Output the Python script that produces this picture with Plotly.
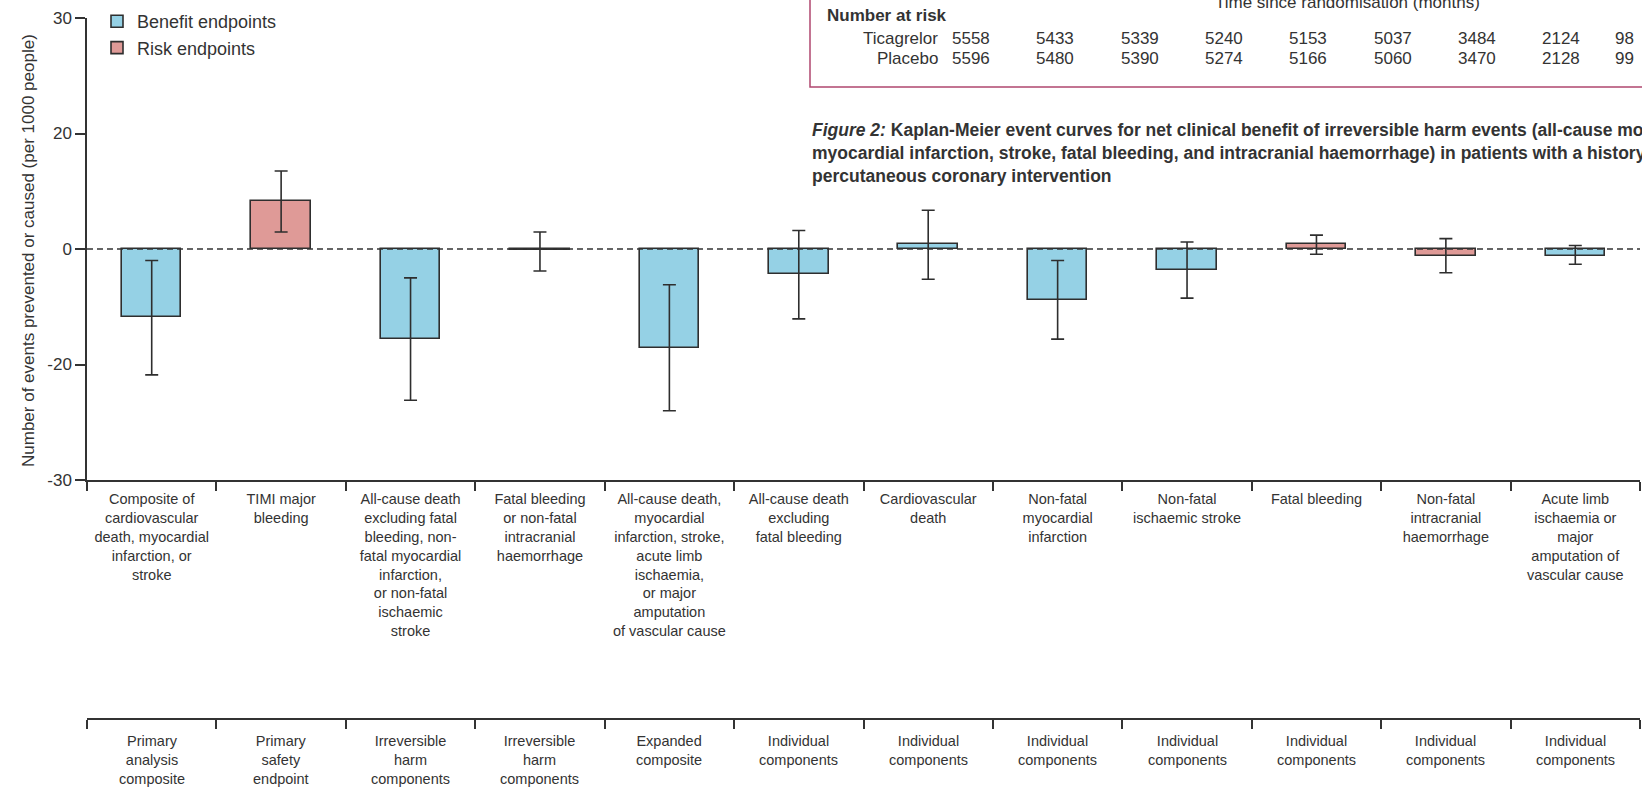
import plotly.graph_objects as go

# ---- data -------------------------------------------------------------
categories = [
    "Composite of<br>cardiovascular<br>death, myocardial<br>infarction, or<br>stroke",
    "TIMI major<br>bleeding",
    "All-cause death<br>excluding fatal<br>bleeding, non-<br>fatal myocardial<br>infarction,<br>or non-fatal<br>ischaemic<br>stroke",
    "Fatal bleeding<br>or non-fatal<br>intracranial<br>haemorrhage",
    "All-cause death,<br>myocardial<br>infarction, stroke,<br>acute limb<br>ischaemia,<br>or major<br>amputation<br>of vascular cause",
    "All-cause death<br>excluding<br>fatal bleeding",
    "Cardiovascular<br>death",
    "Non-fatal<br>myocardial<br>infarction",
    "Non-fatal<br>ischaemic stroke",
    "Fatal bleeding",
    "Non-fatal<br>intracranial<br>haemorrhage",
    "Acute limb<br>ischaemia or<br>major<br>amputation of<br>vascular cause",
]
groups = [
    "Primary<br>analysis<br>composite",
    "Primary<br>safety<br>endpoint",
    "Irreversible<br>harm<br>components",
    "Irreversible<br>harm<br>components",
    "Expanded<br>composite",
    "Individual<br>components",
    "Individual<br>components",
    "Individual<br>components",
    "Individual<br>components",
    "Individual<br>components",
    "Individual<br>components",
    "Individual<br>components",
]
effect = [-11.7, 8.3, -15.6, -0.2, -17.1, -4.4, 0.9, -8.8, -3.6, 0.9, -1.2, -1.2]
ci_upper = [-2.0, 13.5, -5.0, 2.95, -6.2, 3.2, 6.7, -2.0, 1.2, 2.4, 1.8, 0.6]
ci_lower = [-21.8, 2.95, -26.2, -3.8, -28.0, -12.1, -5.25, -15.6, -8.5, -0.9, -4.1, -2.65]
endpoint_type = ["benefit", "risk", "benefit", "risk", "benefit", "benefit",
                 "benefit", "benefit", "benefit", "risk", "risk", "benefit"]

y_tickvals = [-40, -20, 0, 20, 40]
y_ticktext = ["-30", "-20", "0", "20", "30"]

ticagrelor_at_risk = [5558, 5433, 5339, 5240, 5153, 5037, 3484, 2124]
placebo_at_risk = [5596, 5480, 5390, 5274, 5166, 5060, 3470, 2128]
ticagrelor_last = "98"
placebo_last = "99"

# ---- styling ----------------------------------------------------------
FONT = "Liberation Sans, Arial, sans-serif"
INK = "#333333"
BLUE = "#95d1e5"
RED = "#df9a97"
BOX_PINK = "#b0476f"
CLEAR = "rgba(0,0,0,0)"

W, H = 1642, 790
ML, MR, MT, MB = 87, 2, 18, 71
PW, PH = W - ML - MR, H - MT - MB
AXIS_Y = 480  # pixel row of the category axis


def px_x(x):
    return (x - ML) / PW


def px_y(y):
    return (H - MB - y) / PH


x_pos = list(range(len(categories)))
boundaries = [i - 0.5 for i in range(len(categories) + 1)]

fig = go.Figure()

for kind, name, color in [("benefit", "Benefit endpoints", BLUE),
                          ("risk", "Risk endpoints", RED)]:
    yv = [v if t == kind else None for v, t in zip(effect, endpoint_type)]
    plus = [u - v if t == kind else None for v, u, t in zip(effect, ci_upper, endpoint_type)]
    minus = [v - l if t == kind else None for v, l, t in zip(effect, ci_lower, endpoint_type)]
    fig.add_trace(go.Bar(
        x=x_pos, y=yv, name=name, width=0.46,
        marker=dict(color=color, line=dict(color="#2e2e2e", width=1.6)),
        error_y=dict(type="data", symmetric=False, array=plus, arrayminus=minus,
                     color="#2e2e2e", thickness=1.6, width=6.5),
        hoverinfo="skip",
    ))

# carrier trace for the grouping axis
fig.add_trace(go.Scatter(x=[None], y=[None], xaxis="x2", yaxis="y",
                         showlegend=False, hoverinfo="skip"))

# ---- annotations ------------------------------------------------------
ann = []
ann.append(dict(text="Number of events prevented or caused (per 1000 people)",
                x=px_x(28), y=px_y(251), xref="paper", yref="paper",
                textangle=-90, showarrow=False, xanchor="center", yanchor="middle",
                font=dict(family=FONT, size=17, color=INK)))

# group labels under the second axis line
for i, g in enumerate(groups):
    ann.append(dict(text=g, x=x_pos[i], y=px_y(731), xref="x", yref="paper",
                    showarrow=False, xanchor="center", yanchor="top",
                    align="center",
                    font=dict(family=FONT, size=14.5, color=INK)))

# number-at-risk panel
ann.append(dict(text="Time since randomisation (months)", x=px_x(1347), y=px_y(14),
                xref="paper", yref="paper", showarrow=False,
                xanchor="center", yanchor="bottom",
                font=dict(family=FONT, size=17, color=INK)))
ann.append(dict(text="<b>Number at risk</b>", x=px_x(825), y=px_y(15),
                xref="paper", yref="paper", showarrow=False,
                xanchor="left", yanchor="middle",
                font=dict(family=FONT, size=17, color=INK)))
row_y = {"Ticagrelor": 38, "Placebo": 58}
for label, values, last in [("Ticagrelor", ticagrelor_at_risk, ticagrelor_last),
                            ("Placebo", placebo_at_risk, placebo_last)]:
    yy = px_y(row_y[label])
    ann.append(dict(text=label, x=px_x(940), y=yy, xref="paper", yref="paper",
                    showarrow=False, xanchor="right", yanchor="middle",
                    font=dict(family=FONT, size=17, color=INK)))
    for i, v in enumerate(values):
        ann.append(dict(text=str(v), x=px_x(971 + 84.3 * i), y=yy,
                        xref="paper", yref="paper", showarrow=False,
                        xanchor="center", yanchor="middle",
                        font=dict(family=FONT, size=17, color=INK)))
    ann.append(dict(text=last, x=px_x(1613), y=yy, xref="paper", yref="paper",
                    showarrow=False, xanchor="left", yanchor="middle",
                    font=dict(family=FONT, size=17, color=INK)))

caption = ("<b><i>Figure 2:</i> Kaplan-Meier event curves for net clinical benefit of "
           "irreversible harm events (all-cause mortality,<br>"
           "myocardial infarction, stroke, fatal bleeding, and intracranial haemorrhage) "
           "in patients with a history of<br>"
           "percutaneous coronary intervention</b>")
ann.append(dict(text=caption, x=px_x(810), y=px_y(118), xref="paper", yref="paper",
                showarrow=False, xanchor="left", yanchor="top", align="left",
                font=dict(family=FONT, size=17.5, color=INK)))

shapes = [
    dict(type="line", xref="paper", yref="y", x0=0, x1=1, y0=0, y1=0,
         line=dict(color=INK, width=1.5, dash="6px,4px"), layer="above"),
    dict(type="rect", xref="paper", yref="paper",
         x0=px_x(810), x1=px_x(1720), y0=px_y(87), y1=px_y(-30),
         line=dict(color=BOX_PINK, width=1.5), fillcolor=CLEAR),
]

axis_common = dict(
    range=[-0.5, len(categories) - 0.5], tickmode="array", tickvals=x_pos,
    showline=True, linecolor=INK, linewidth=1.5,
    showgrid=False, zeroline=False, fixedrange=True,
    tickfont=dict(family=FONT, size=14.5, color=INK),
    minor=dict(tickmode="array", tickvals=boundaries, ticks="outside",
               ticklen=9, tickwidth=1.5, tickcolor=INK),
)

fig.update_layout(
    width=W, height=H, autosize=False,
    margin=dict(l=ML, r=MR, t=MT, b=MB, pad=0),
    paper_bgcolor="white", plot_bgcolor="white",
    barmode="overlay", bargap=0,
    font=dict(family=FONT, color=INK),
    showlegend=True,
    legend=dict(x=px_x(97), y=px_y(3), xanchor="left", yanchor="top",
                font=dict(family=FONT, size=18, color=INK),
                bgcolor=CLEAR, tracegroupgap=0, traceorder="normal"),
    # an invisible major tick sets how far the labels sit below the axis line
    xaxis=dict(**axis_common, ticktext=categories, anchor="y",
               ticks="outside", ticklen=5, tickcolor=CLEAR),
    xaxis2=dict(**axis_common, overlaying="x", anchor="free",
                position=0, side="bottom", ticks="", showticklabels=False),
    yaxis=dict(domain=[px_y(AXIS_Y), 1], range=[-40, 40], tickmode="array",
               tickvals=y_tickvals, ticktext=y_ticktext, ticks="outside",
               ticklen=10, tickwidth=1.5, tickcolor=INK, showline=True,
               linecolor=INK, linewidth=1.5, showgrid=False, zeroline=False,
               fixedrange=True,
               tickfont=dict(family=FONT, size=17, color=INK)),
    annotations=ann,
    shapes=shapes,
)

fig.write_html("out.html")
